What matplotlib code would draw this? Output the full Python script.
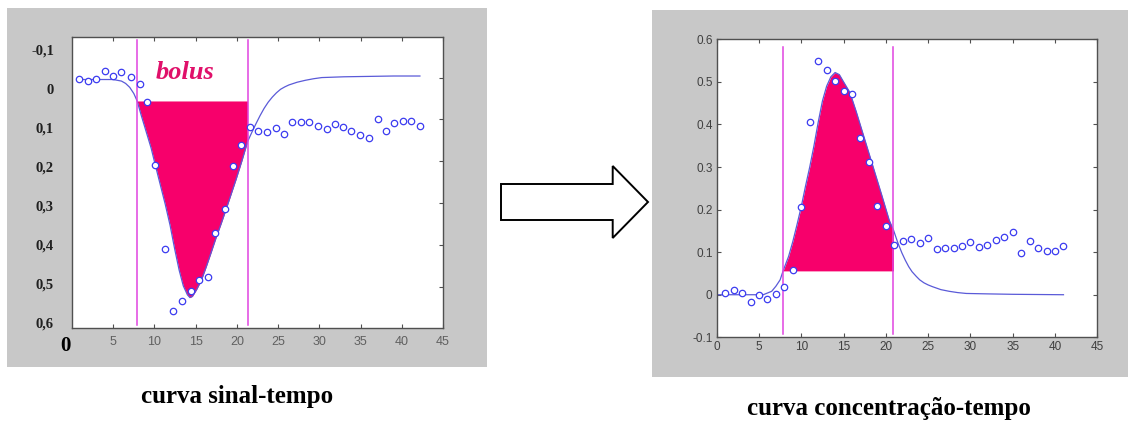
import matplotlib.pyplot as plt
from matplotlib.patches import Rectangle, Polygon

W, H = 1134, 421

# curva sinal-tempo (painel esquerdo), eixo y invertido
sig_t = [0.9, 2.0, 2.9, 4.0, 5.0, 6.0, 7.2, 8.2, 9.1, 10.1, 11.3, 12.3, 13.3, 14.4, 15.4, 16.5, 17.4, 18.5, 19.5, 20.5,
         21.6, 22.6, 23.6, 24.7, 25.7, 26.7, 27.8, 28.7, 29.8, 30.9, 31.9, 32.9, 33.9, 34.9, 36.0, 37.1, 38.1, 39.1,
         40.1, 41.1, 42.2]
sig_y = [-0.026, -0.019, -0.026, -0.047, -0.033, -0.042, -0.030, -0.012, 0.033, 0.195, 0.411, 0.569, 0.545, 0.517,
         0.490, 0.481, 0.370, 0.308, 0.197, 0.145,
         0.098, 0.107, 0.110, 0.101, 0.115, 0.085, 0.086, 0.086, 0.095, 0.103, 0.091, 0.098, 0.109, 0.117, 0.126,
         0.077, 0.107, 0.088, 0.082, 0.083, 0.094]
sig_fit_t = [0.7, 3.0, 5.0, 6.0, 6.5, 7.0, 7.5, 7.9, 8.4, 9.0, 9.6, 10.1, 10.7, 11.3, 11.9, 12.45, 13.0, 13.5, 14.0,
             14.3, 14.6, 15.1, 15.7, 16.3, 16.9, 17.5, 18.1, 18.7, 19.3, 19.9, 20.6, 21.3, 21.8, 22.3, 22.8, 23.3,
             23.8, 24.3, 24.8, 25.3, 25.8, 26.3, 27.3, 28.3, 29.3, 30.3, 33.0, 36.0, 39.0, 42.2]
sig_fit_y = [-0.024, -0.024, -0.024, -0.020, -0.014, -0.004, 0.012, 0.031, 0.068, 0.110, 0.152, 0.195, 0.245, 0.295,
             0.350, 0.410, 0.465, 0.505, 0.528, 0.535, 0.532, 0.515, 0.490, 0.455, 0.418, 0.380, 0.345, 0.308, 0.270,
             0.232, 0.185, 0.135, 0.112, 0.090, 0.069, 0.050, 0.034, 0.021, 0.010, 0.001, -0.005, -0.010, -0.017,
             -0.022, -0.026, -0.029, -0.031, -0.032, -0.033, -0.033]
sig_bolus = (7.9, 21.3)
sig_base = 0.031
sig_ticks = [-0.1, 0.0, 0.1, 0.2, 0.3, 0.4, 0.5, 0.6]
sig_labels = ['-0,1', '0', '0,1', '0,2', '0,3', '0,4', '0,5', '0,6']
sig_right_ticks = [-0.028, 0.077, 0.185, 0.292, 0.400, 0.508]

# curva concentracao-tempo (painel direito)
conc_t = list(range(1, 42))
conc_y = [0.003, 0.011, 0.003, -0.016, -0.001, -0.009, 0.002, 0.019, 0.058, 0.207,
          0.405, 0.550, 0.528, 0.502, 0.479, 0.471, 0.367, 0.311, 0.209, 0.162,
          0.117, 0.127, 0.130, 0.121, 0.133, 0.107, 0.109, 0.109, 0.114, 0.123,
          0.113, 0.117, 0.129, 0.135, 0.147, 0.099, 0.127, 0.109, 0.103, 0.103,
          0.114]
conc_fit_t = [0.1, 3.0, 5.5, 6.5, 7.0, 7.5, 7.85, 8.5, 9.0, 9.5, 10.0, 10.5, 11.0, 11.5, 12.0, 12.5, 13.0, 13.5,
              14.0, 14.5, 15.0, 15.75, 16.5, 17.5, 18.5, 19.5, 20.4, 20.9, 21.4, 21.9, 22.3, 22.7, 23.1, 23.6,
              24.0, 24.5, 25.0, 25.5, 26.5, 27.5, 28.5, 29.5, 32.0, 35.0, 41.0]
conc_fit_y = [0.0, 0.0, 0.0, 0.008, 0.020, 0.035, 0.056, 0.090, 0.125, 0.165, 0.207, 0.255, 0.300, 0.350, 0.405,
              0.455, 0.490, 0.512, 0.522, 0.517, 0.500, 0.475, 0.430, 0.365, 0.300, 0.235, 0.175, 0.152, 0.123,
              0.098, 0.081, 0.066, 0.054, 0.043, 0.035, 0.028, 0.023, 0.019, 0.012, 0.008, 0.005, 0.003, 0.002,
              0.001, 0.0]
conc_bolus = (7.85, 20.9)
conc_base = 0.056

GRAY = '#c8c8c8'
PINK = '#f7006b'
MAG = '#e044e0'
BLUE = '#3c3cf0'
CURVE = '#5a5ad8'


def px_rect(x0, y0, x1, y1):
    # caixa em pixels (origem no topo) -> fracao da figura
    return [x0 / W, 1 - y1 / H, (x1 - x0) / W, (y1 - y0) / H]


def fx(x):
    return x / W


def fy(y):
    return 1 - y / H


fig = plt.figure(figsize=(W / 100, H / 100), dpi=100)
fig.patch.set_facecolor('white')
fig.patches.append(Rectangle((fx(7), fy(367)), (487 - 7) / W, (367 - 8) / H, transform=fig.transFigure,
                             facecolor=GRAY, edgecolor='none', zorder=-5))
fig.patches.append(Rectangle((fx(652), fy(377)), (1128 - 652) / W, (377 - 10) / H, transform=fig.transFigure,
                             facecolor=GRAY, edgecolor='none', zorder=-5))


def draw_panel(ax, ft, fyv, pt, pyv, bolus, base, vtop=0.99):
    a, b = bolus
    sel_t = [t for t in ft if a <= t <= b]
    sel_y = [v for t, v in zip(ft, fyv) if a <= t <= b]
    ax.fill_between(sel_t, base, sel_y, color=PINK, lw=0, zorder=1)
    ax.plot(ft, fyv, color=CURVE, lw=0.9, zorder=2)
    ax.axvline(a, ymin=0.01, ymax=vtop, color=MAG, lw=1.1, zorder=3)
    ax.axvline(b, ymin=0.01, ymax=vtop, color=MAG, lw=1.1, zorder=3)
    ax.plot(pt, pyv, 'o', ms=4.6, mfc='white', mec=BLUE, mew=0.9, ls='none', zorder=4)
    ax.set_xlim(0, 45)
    for s in ax.spines.values():
        s.set_color('#505050')
        s.set_linewidth(1.0)


# painel esquerdo
ax1 = fig.add_axes(px_rect(72, 37, 443, 328))
draw_panel(ax1, sig_fit_t, sig_fit_y, sig_t, sig_y, sig_bolus, sig_base)
ax1.set_ylim(0.613, -0.133)
ax1.set_xticks([5, 10, 15, 20, 25, 30, 35, 40, 45])
ax1.set_yticks(sig_ticks)
ax1.set_yticklabels(sig_labels, family='Liberation Serif', fontweight='bold', fontsize=10.5, color='#202020')
ax1.tick_params(axis='y', length=0, pad=13)
ax1.tick_params(axis='x', direction='in', length=3, top=True, pad=6, labelsize=9, labelcolor='#606060',
                color='#505050')
for lab in ax1.get_xticklabels():
    lab.set_family('Liberation Sans')
ax1b = ax1.twinx()
ax1b.set_ylim(0.613, -0.133)
ax1b.set_yticks(sig_right_ticks)
ax1b.tick_params(axis='y', direction='in', length=3, labelright=False, color='#505050')
for s in ax1b.spines.values():
    s.set_visible(False)
ax1.text(13.7, -0.041, 'bolus', family='Liberation Serif', fontweight='bold', fontstyle='italic',
         fontsize=19, color='#e0106a', ha='center', va='center', zorder=5)
fig.text(fx(65), fy(346), '0', family='Liberation Serif', fontweight='bold', fontsize=15, ha='center',
         va='center')

# painel direito
ax2 = fig.add_axes(px_rect(716.7, 39.3, 1097.3, 337.3))
draw_panel(ax2, conc_fit_t, conc_fit_y, conc_t, conc_y, conc_bolus, conc_base, vtop=0.975)
ax2.set_ylim(-0.1, 0.6)
ax2.set_xticks(range(0, 46, 5))
ax2.set_yticks([-0.1, 0.0, 0.1, 0.2, 0.3, 0.4, 0.5, 0.6])
ax2.set_yticklabels(['-0.1', '0', '0.1', '0.2', '0.3', '0.4', '0.5', '0.6'])
ax2.tick_params(direction='in', length=3, top=True, right=True, pad=3, labelsize=8.5, labelcolor='#404040',
                color='#505050')
for lab in ax2.get_xticklabels() + ax2.get_yticklabels():
    lab.set_family('Liberation Sans')

# seta
arrow = [(501, 184), (612.7, 184), (612.7, 166), (648, 202), (612.7, 238), (612.7, 220), (501, 220)]
fig.patches.append(Polygon([(fx(x), fy(y)) for x, y in arrow], closed=True, transform=fig.transFigure,
                           facecolor='white', edgecolor='black', lw=1.4, zorder=2))

fig.text(fx(237), fy(397), 'curva sinal-tempo', family='Liberation Serif', fontweight='bold', fontsize=18,
         ha='center', va='center')
fig.text(fx(889), fy(408), 'curva concentração-tempo', family='Liberation Serif', fontweight='bold',
         fontsize=18, ha='center', va='center')

fig.savefig('out.png', dpi=100)
